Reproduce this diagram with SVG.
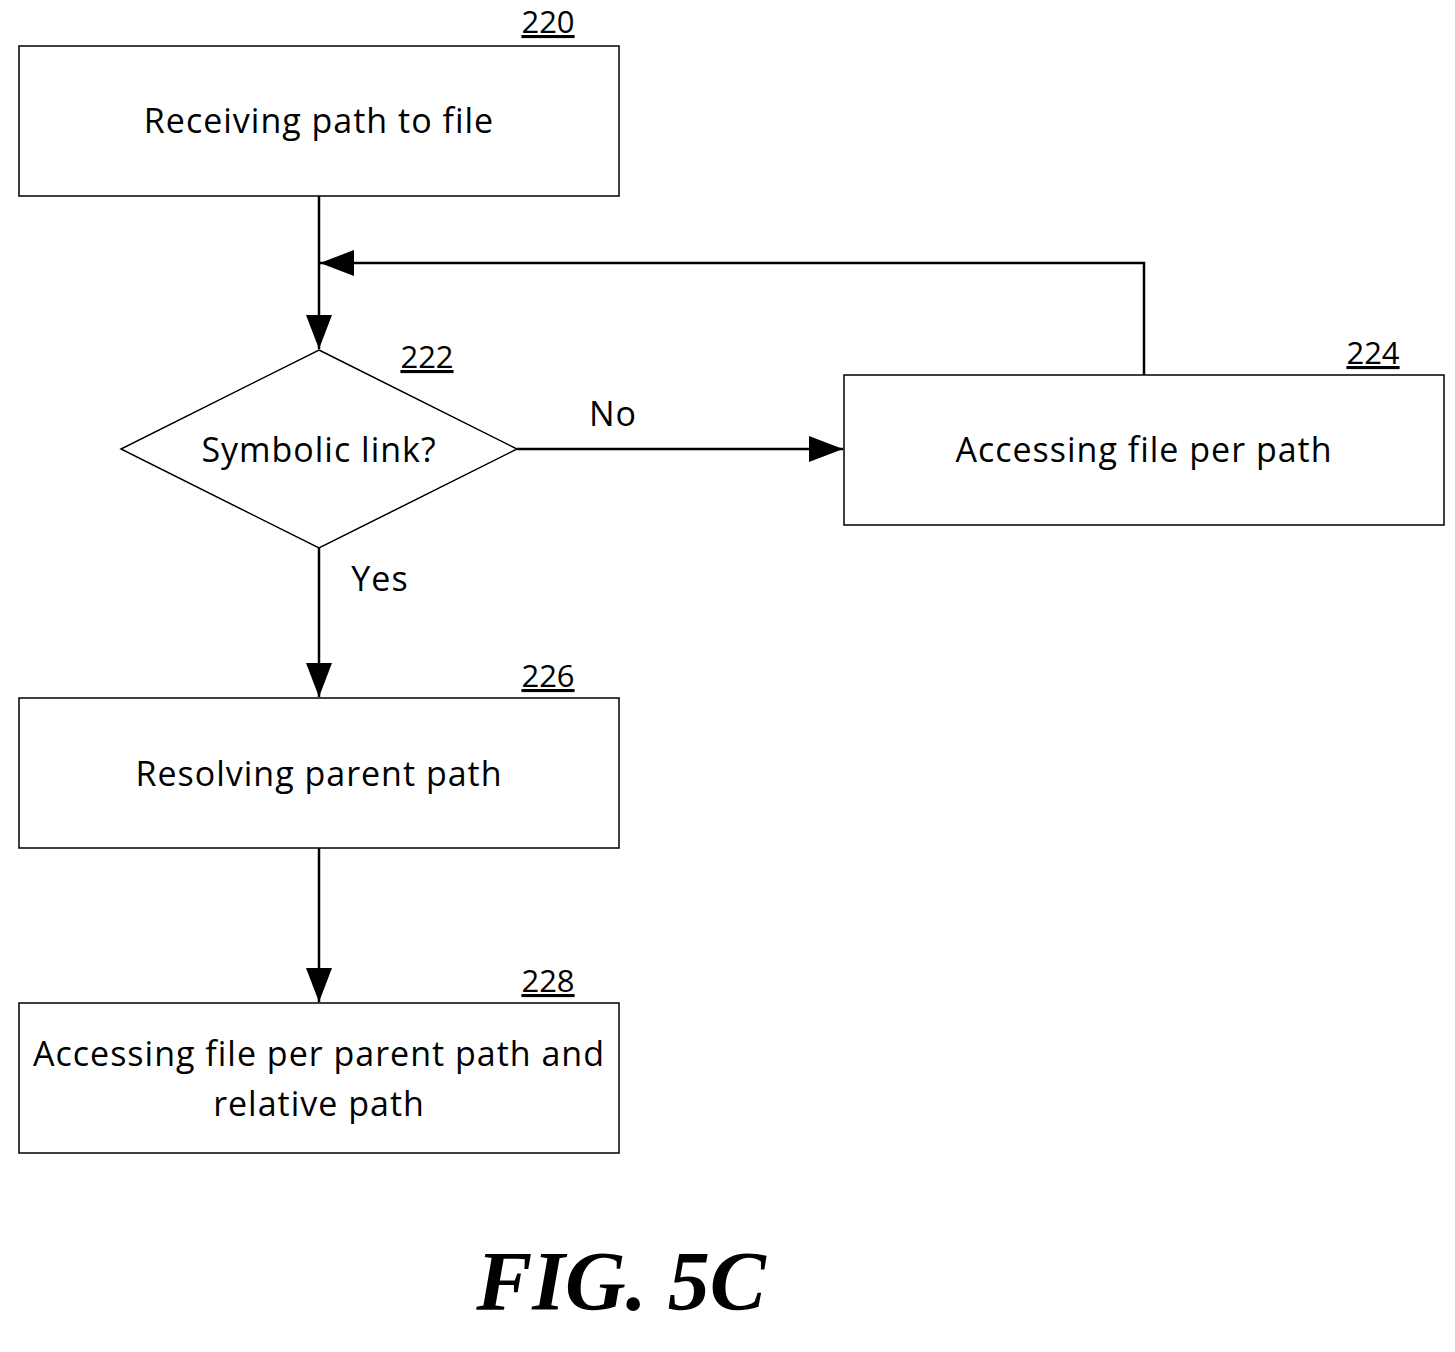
<svg xmlns="http://www.w3.org/2000/svg" width="1455" height="1352" viewBox="0 0 1455 1352">
<style>
.box{fill:#fff;stroke:#000;stroke-width:1.5}
.t{font-family:"Open Sans","DejaVu Sans",sans-serif;font-size:34px;letter-spacing:1px;text-anchor:middle;fill:#000}
.n{font-family:"Open Sans","DejaVu Sans",sans-serif;font-size:31px;text-anchor:middle;fill:#000;text-decoration:underline}
.c{fill:none;stroke:#000;stroke-width:2.5}
</style>
<defs>
<marker id="a" markerUnits="userSpaceOnUse" markerWidth="36" markerHeight="26" refX="34" refY="13" orient="auto">
<polygon points="0,0 34,13 0,26"/>
</marker>
</defs>
<rect width="1455" height="1352" fill="#fff"/>
<g id="n220"><rect class="box" x="19" y="46" width="600" height="150"/><text class="t" x="319" y="133">Receiving path to file</text><text class="n" x="548" y="33">220</text></g>
<g id="n222"><polygon class="box" points="319,350 517,449 319,548 121,449"/><text class="t" x="319" y="462">Symbolic link?</text><text class="n" x="427" y="368">222</text></g>
<g id="n224"><rect class="box" x="844" y="375" width="600" height="150"/><text class="t" x="1144" y="462">Accessing file per path</text><text class="n" x="1373" y="364">224</text></g>
<g id="n226"><rect class="box" x="19" y="698" width="600" height="150"/><text class="t" x="319" y="786">Resolving parent path</text><text class="n" x="548" y="687">226</text></g>
<g id="n228"><rect class="box" x="19" y="1003" width="600" height="150"/><text class="t" x="319" y="1066">Accessing file per parent path and</text><text class="t" x="319" y="1116">relative path</text><text class="n" x="548" y="992">228</text></g>
<g id="connectors">
<line class="c" x1="319" y1="196" x2="319" y2="349" marker-end="url(#a)"/>
<polyline class="c" points="1144,375 1144,263 320,263" marker-end="url(#a)"/>
<line class="c" x1="517" y1="449" x2="843" y2="449" marker-end="url(#a)"/>
<line class="c" x1="319" y1="548" x2="319" y2="697" marker-end="url(#a)"/>
<line class="c" x1="319" y1="848" x2="319" y2="1002" marker-end="url(#a)"/>
<text class="t" x="613" y="426">No</text>
<text class="t" x="380" y="591">Yes</text>
</g>
<text x="621" y="1310" font-family="Liberation Serif,serif" font-size="84" font-weight="bold" font-style="italic" text-anchor="middle">FIG. 5C</text>
</svg>
